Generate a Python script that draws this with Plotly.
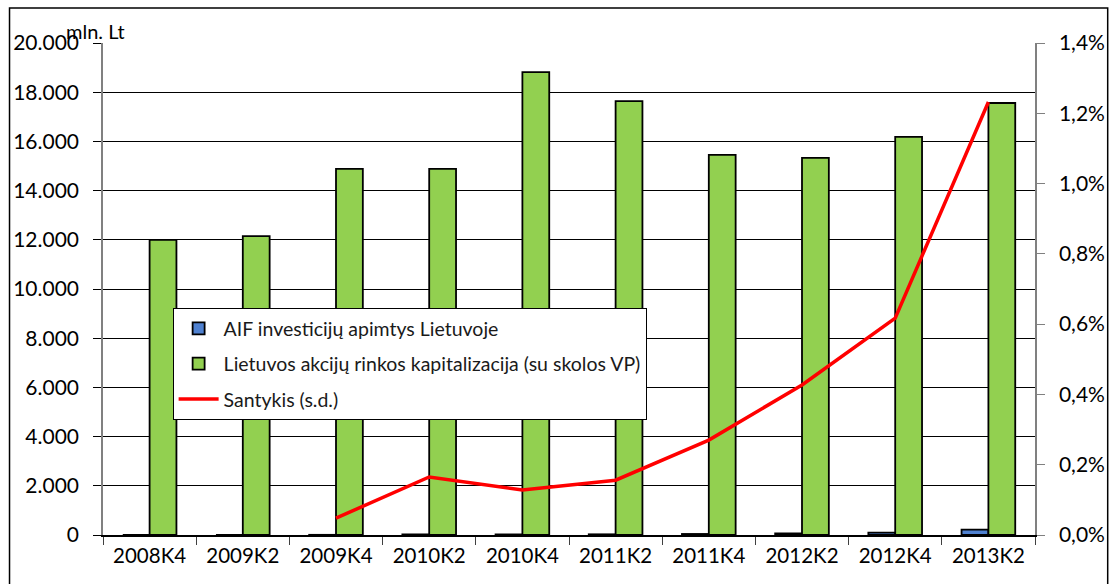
import plotly.graph_objects as go

# Quarterly observations
periods = ["2008K4", "2009K2", "2009K4", "2010K2", "2010K4",
           "2011K2", "2011K4", "2012K2", "2012K4", "2013K2"]

# AIF investment volume in Lithuania, mln. Lt
aif_volume = [0, 0, 7, 25, 24, 28, 42, 65, 100, 216]

# Lithuanian stock market capitalisation (incl. debt securities), mln. Lt
market_cap = [12000, 12150, 14880, 14880, 18820, 17640, 15450, 15330, 16180, 17560]

# Ratio of the two, percent (right axis)
ratio_pct = [None, None, 0.048, 0.165, 0.128, 0.156, 0.27, 0.427, 0.617, 1.232]

left_ticks = list(range(0, 20001, 2000))
left_labels = ["0" if v == 0 else f"{v // 1000}.000" for v in left_ticks]
right_ticks = [i * 0.2 for i in range(8)]
right_labels = [f"{v:.1f}%".replace(".", ",") for v in right_ticks]

FONT = "Lato"

fig = go.Figure()
fig.add_trace(go.Bar(
    x=periods, y=aif_volume, name="AIF investicijų apimtys Lietuvoje",
    legendgroup="a",
    marker=dict(color="#4f81d0", line=dict(color="black", width=1.8)),
))
fig.add_trace(go.Bar(
    x=periods, y=market_cap,
    name="Lietuvos akcijų rinkos kapitalizacija (su skolos VP)",
    legendgroup="b",
    marker=dict(color="#92d050", line=dict(color="black", width=1.8)),
))
fig.add_trace(go.Scatter(
    x=periods, y=ratio_pct, name="Santykis (s.d.)", yaxis="y2",
    legendgroup="c",
    mode="lines", line=dict(color="#ff0000", width=3.5),
))

fig.update_layout(
    width=1117, height=584,
    margin=dict(l=103, r=77, t=43, b=49),
    paper_bgcolor="white", plot_bgcolor="white",
    barmode="group", bargap=0.424, bargroupgap=0,
    font=dict(family=FONT, size=20, color="black"),
    showlegend=True,
    legend=dict(
        x=0.0747, y=0.461, xanchor="left", yanchor="top",
        bgcolor="white", bordercolor="black", borderwidth=1,
        font=dict(family=FONT, size=19.5, color="#1a1a1a"),
        tracegroupgap=7, itemwidth=40,
    ),
    xaxis=dict(
        type="category", tickson="boundaries", ticks="outside", ticklen=8,
        tickcolor="#404040", showline=True, linecolor="black", linewidth=1.5,
        showgrid=False, tickfont=dict(size=20.5), ticklabelstandoff=2,
    ),
    yaxis=dict(
        range=[0, 20000], tickvals=left_ticks, ticktext=left_labels,
        ticks="outside", ticklen=8, tickcolor="black",
        showgrid=True, gridcolor="black", gridwidth=1,
        showline=True, linecolor="#808080", linewidth=1.5,
        zeroline=False, tickfont=dict(size=21), ticklabelstandoff=10,
    ),
    yaxis2=dict(
        overlaying="y", side="right", range=[0, 1.4],
        tickvals=right_ticks, ticktext=right_labels,
        ticks="outside", ticklen=8, tickcolor="#808080",
        showgrid=False, showline=True, linecolor="#808080", linewidth=1.5,
        zeroline=False, tickfont=dict(size=21), ticklabelstandoff=10,
    ),
    annotations=[dict(
        text="mln. Lt", xref="paper", yref="paper", x=-0.042, y=1.0,
        xanchor="left", yanchor="bottom", yshift=-2, showarrow=False,
        font=dict(family=FONT, size=20, color="black"),
    )],
    shapes=[dict(
        type="rect", xref="paper", yref="paper",
        x0=-0.1003, x1=1.078, y0=-0.12, y1=1.0711,
        line=dict(color="black", width=1.5), layer="below",
    )],
)

fig.write_html("out.html")
